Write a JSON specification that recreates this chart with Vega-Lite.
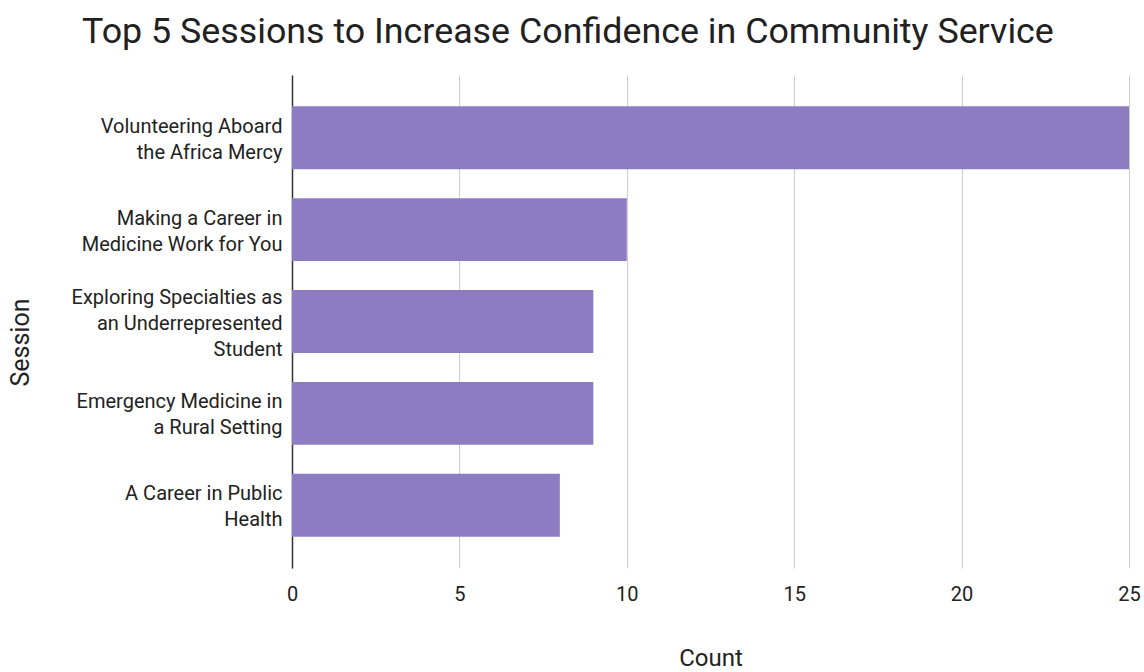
{
  "$schema": "https://vega.github.io/schema/vega-lite/v6.json",
  "autosize": "none",
  "width": 837,
  "height": 493,
  "padding": {"left": 292, "top": 75, "right": 15, "bottom": 104},
  "background": "white",
  "title": {
    "text": "Top 5 Sessions to Increase Confidence in Community Service",
    "anchor": "start",
    "frame": "group",
    "dx": -210,
    "dy": 36,
    "offset": 32,
    "baseline": "alphabetic",
    "font": "Roboto",
    "fontSize": 35.8,
    "fontWeight": "normal",
    "color": "#212121"
  },
  "data": {
    "values": [
      {"Session": "Volunteering Aboard the Africa Mercy", "Count": 25},
      {"Session": "Making a Career in Medicine Work for You", "Count": 10},
      {"Session": "Exploring Specialties as an Underrepresented Student", "Count": 9},
      {"Session": "Emergency Medicine in a Rural Setting", "Count": 9},
      {"Session": "A Career in Public Health", "Count": 8}
    ]
  },
  "mark": {"type": "bar", "color": "#8e7cc3"},
  "encoding": {
    "y": {
      "field": "Session",
      "type": "nominal",
      "sort": null,
      "scale": {"paddingInner": 0.315, "paddingOuter": 0.34},
      "axis": {
        "title": "Session",
        "titleFont": "Roboto",
        "titleFontSize": 25,
        "titleFontWeight": "normal",
        "titleColor": "#222222",
        "titleX": -272,
        "titleY": 267,
        "titleAngle": -90,
        "titleAlign": "center",
        "titleBaseline": "middle",
        "labelFont": "Roboto",
        "labelFontSize": 20,
        "labelColor": "#222222",
        "labelPadding": 10,
        "labelLineHeight": 26,
        "labelLimit": 300,
        "labelBaseline": "middle",
        "labelOffset": {"condition": {"test": "datum.value == 'Exploring Specialties as an Underrepresented Student'", "value": -24}, "value": -11},
        "ticks": false,
        "domainColor": "#333333",
        "domainWidth": 1.5,
        "grid": false,
        "labelExpr": "datum.value == 'Volunteering Aboard the Africa Mercy' ? ['Volunteering Aboard', 'the Africa Mercy'] : datum.value == 'Making a Career in Medicine Work for You' ? ['Making a Career in', 'Medicine Work for You'] : datum.value == 'Exploring Specialties as an Underrepresented Student' ? ['Exploring Specialties as', 'an Underrepresented', 'Student'] : datum.value == 'Emergency Medicine in a Rural Setting' ? ['Emergency Medicine in', 'a Rural Setting'] : ['A Career in Public', 'Health']"
      }
    },
    "x": {
      "field": "Count",
      "type": "quantitative",
      "scale": {"domain": [0, 25], "nice": false},
      "axis": {
        "title": "Count",
        "titleFont": "Roboto",
        "titleFontSize": 24,
        "titleFontWeight": "normal",
        "titleColor": "#222222",
        "titleY": 97,
        "titleBaseline": "alphabetic",
        "values": [0, 5, 10, 15, 20, 25],
        "labelFont": "Roboto",
        "labelFontSize": 20,
        "labelColor": "#222222",
        "labelPadding": 16,
        "labelFlush": false,
        "ticks": false,
        "domain": false,
        "grid": true,
        "gridColor": "#cccccc",
        "gridWidth": 1
      }
    }
  },
  "config": {"view": {"stroke": null}}
}
